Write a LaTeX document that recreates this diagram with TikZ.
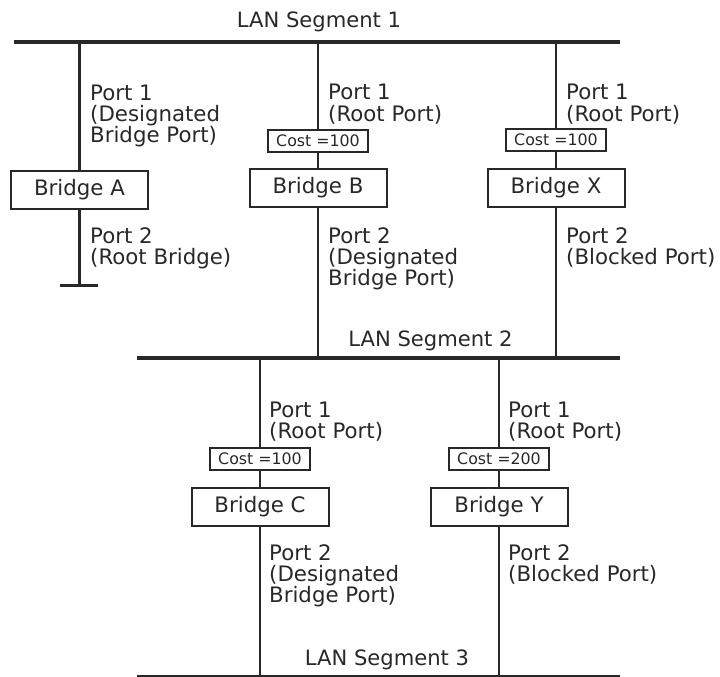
\documentclass[tikz,border=0pt]{standalone}
\usepackage{fontspec}
\setmainfont{DejaVu Sans}
\definecolor{ink}{RGB}{40,40,40}
\begin{document}
\begin{tikzpicture}[x=1pt,y=-1pt,
    lan/.style={line width=4pt,draw=ink},
    link/.style={line width=2.3pt,draw=ink},
    bridge/.style={draw=ink,line width=2pt,minimum width=137pt,minimum height=38pt,inner sep=0pt,text=ink,font=\fontsize{21.3}{21}\selectfont},
    cost/.style={draw=ink,line width=1.8pt,minimum width=100pt,minimum height=22pt,inner sep=0pt,text=ink,font=\fontsize{15.8}{18}\selectfont},
    port/.style={anchor=base west,align=left,inner sep=0pt,text=ink,font=\fontsize{21.3}{21}\selectfont},
    seg/.style={anchor=base,inner sep=0pt,text=ink,font=\fontsize{21.1}{21}\selectfont}]
    \useasboundingbox (0,0) rectangle (720,677);
    % LAN segments
    \coordinate (s1w) at (14,42);   \coordinate (s1e) at (620,42);
    \coordinate (s2w) at (137,358); \coordinate (s2e) at (620,358);
    \coordinate (s3w) at (137,677); \coordinate (s3e) at (620,677);
    \draw[lan] (s1w) -- (s1e);
    \draw[lan] (s2w) -- (s2e);
    \draw[lan] (s3w) -- (s3e);
    \node[seg] (seg1) at (319,28) {LAN Segment 1};
    \node[seg] (seg2) at (430.5,346) {LAN Segment 2};
    \node[seg] (seg3) at (387,665) {LAN Segment 3};
    % bridges
    \node[bridge] (ba) at (79.5,190) {Bridge A};
    \node[bridge] (bb) at (318,188) {Bridge B};
    \node[bridge] (bx) at (556,188) {Bridge X};
    \node[bridge] (bc) at (260,507) {Bridge C};
    \node[bridge] (by) at (499,507) {Bridge Y};
    \node[cost] (cb) at (318,141) {Cost =100};
    \node[cost] (cx) at (556,140) {Cost =100};
    \node[cost] (cc) at (260,459) {Cost =100};
    \node[cost] (cy) at (499,459) {Cost =200};
    % bridge A
    \coordinate (ta) at (79.5,42);
    \coordinate (ea) at (79.5,285.5);
    \coordinate (ea1) at (60,285.5); \coordinate (ea2) at (98,285.5);
    \draw[link] (ta) -- (ba.north);
    \draw[link] (ba.south) -- (ea);
    \draw[link] (ea1) -- (ea2);
    % bridges B and X
    \coordinate (tb) at (318,42);  \coordinate (db) at (318,358);
    \coordinate (tx) at (556,42);  \coordinate (dx) at (556,358);
    \draw[link] (tb) -- (cb.north);
    \draw[link] (cb.south) -- (bb.north);
    \draw[link] (bb.south) -- (db);
    \draw[link] (tx) -- (cx.north);
    \draw[link] (cx.south) -- (bx.north);
    \draw[link] (bx.south) -- (dx);
    % bridges C and Y
    \coordinate (tc) at (260,358); \coordinate (dc) at (260,677);
    \coordinate (ty) at (499,358); \coordinate (dy) at (499,677);
    \draw[link] (tc) -- (cc.north);
    \draw[link] (cc.south) -- (bc.north);
    \draw[link] (bc.south) -- (dc);
    \draw[link] (ty) -- (cy.north);
    \draw[link] (cy.south) -- (by.north);
    \draw[link] (by.south) -- (dy);
    % port labels (base = last line)
    \node[port] (pa1) at (90,142) {Port 1\\(Designated\\Bridge Port)};
    \node[port] (pa2) at (90,264) {Port 2\\(Root Bridge)};
    \node[port] (pb1) at (328,121) {Port 1\\(Root Port)};
    \node[port] (pb2) at (328,285) {Port 2\\(Designated\\Bridge Port)};
    \node[port] (px1) at (566,121) {Port 1\\(Root Port)};
    \node[port] (px2) at (566,264) {Port 2\\(Blocked Port)};
    \node[port] (pc1) at (269,438) {Port 1\\(Root Port)};
    \node[port] (pc2) at (269,602) {Port 2\\(Designated\\Bridge Port)};
    \node[port] (py1) at (508,438) {Port 1\\(Root Port)};
    \node[port] (py2) at (508,581) {Port 2\\(Blocked Port)};
\end{tikzpicture}
\end{document}
